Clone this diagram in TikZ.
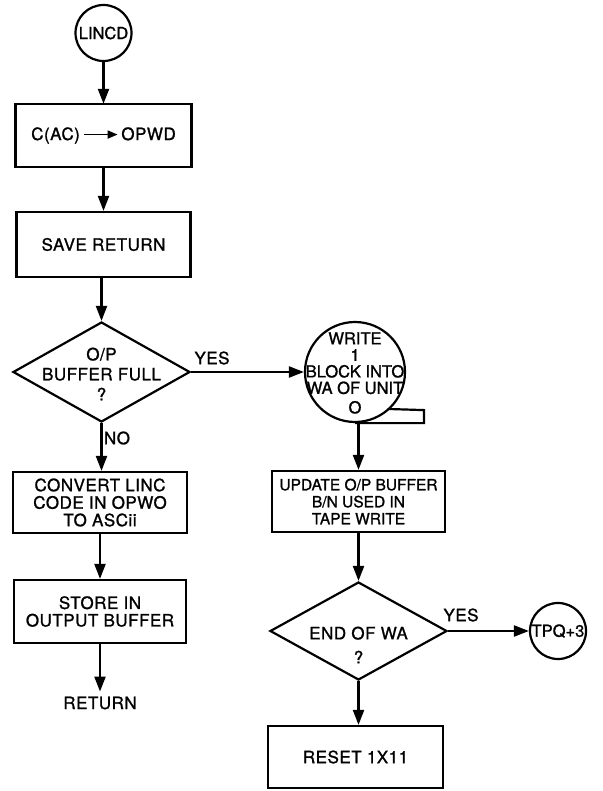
\documentclass[tikz,border=0pt]{standalone}
\usepackage{fontspec}
\setmainfont{TeX Gyre Heros}[LetterSpace=3,FakeBold=1.2]
\newfontfamily\tightfont{TeX Gyre Heros}[FakeBold=1.2]
\usetikzlibrary{arrows.meta,shapes.geometric}
\begin{document}
\begin{tikzpicture}[x=1pt,y=-1pt,line width=2.2pt,
  font=\fontsize{17}{17.5}\selectfont,
  >={Triangle[length=15pt,width=11pt]},
  proc/.style={draw,rectangle,inner sep=0pt,align=center},
  term/.style={draw,circle,inner sep=0pt,minimum size=56pt},
  dec/.style={draw,diamond,inner sep=0pt},
  lbl/.style={inner sep=0pt,align=center},
  flow/.style={->}]
\useasboundingbox (0,0) rectangle (602,791);
% left column
\node[term,font=\tightfont\fontsize{16.5}{17}\selectfont] (lincd) at (103.5,33) {LINCD};
\node[proc,minimum width=176pt,minimum height=63pt] (b1) at (103.5,135.5)
  {C(AC)\,\tikz[baseline]{\draw[line width=1.8pt,-{Triangle[length=10pt,width=8pt]}] (0pt,5.5pt) -- (34pt,5.5pt);}\,OPWD};
\node[proc,minimum width=174pt,minimum height=65pt] (b2) at (103.5,244.5) {SAVE RETURN};
\node[dec,minimum width=177pt,minimum height=100pt] (d1) at (101.5,372) {};
\node[lbl,font=\fontsize{17}{20}\selectfont] (d1t) at (101.5,374) {O/P\\BUFFER FULL\\?};
\node[proc,minimum width=174pt,minimum height=61pt] (b3) at (100,502.5) {CONVERT LINC\\CODE IN OPWO\\TO ASCii};
\node[proc,minimum width=172pt,minimum height=63pt] (b4) at (100,611.5) {STORE IN\\OUTPUT BUFFER};
\node[lbl,inner sep=4pt] (ret) at (100,703) {RETURN};
\node[lbl] (yes1) at (212,358) {YES};
\node[lbl] (no1) at (117,438) {NO};
% right column
\node[draw,circle,inner sep=0pt,minimum size=100pt] (w) at (355,372) {};
\coordinate (tailend) at (389,409);
\draw (w.south) -- ++(69,0) -- ++(0,-13) -- (tailend);
\node[lbl,font=\tightfont\fontsize{16.5}{16.5}\selectfont] (wt) at (355,373) {WRITE\\1\\BLOCK INTO\\WA OF UNIT\\[3pt]O};
\node[proc,minimum width=173pt,minimum height=61pt,font=\tightfont\fontsize{15.5}{17}\selectfont] (b5) at (358.5,501.5) {UPDATE O/P BUFFER\\B/N USED IN\\TAPE WRITE};
\node[dec,minimum width=177pt,minimum height=98pt] (d2) at (358.5,631) {};
\node[lbl,font=\fontsize{17}{24}\selectfont] (d2t) at (358.5,645) {END OF WA\\?};
\node[term,font=\tightfont\fontsize{16.5}{17}\selectfont] (tpq) at (558,631) {TPQ+3};
\node[lbl] (yes2) at (461,615) {YES};
\node[proc,minimum width=175pt,minimum height=62pt] (b6) at (355.5,757) {RESET 1X11};
% connectors
\draw[flow] (lincd) -- (b1);
\draw[flow] (b1) -- (b2);
\draw[flow] (b2.south -| d1.north) -- (d1.north);
\draw[flow] (d1) -- (w);
\draw[flow] (d1.south) -- (d1.south |- b3.north);
\draw[flow] (b3) -- (b4);
\draw[flow] (b4) -- (ret);
\draw[flow] (b5.north |- w.south) -- (b5.north);
\draw[flow] (b5) -- (d2);
\draw[flow] (d2.south) -- (d2.south |- b6.north);
\draw[flow] (d2) -- (tpq);
\end{tikzpicture}
\end{document}
